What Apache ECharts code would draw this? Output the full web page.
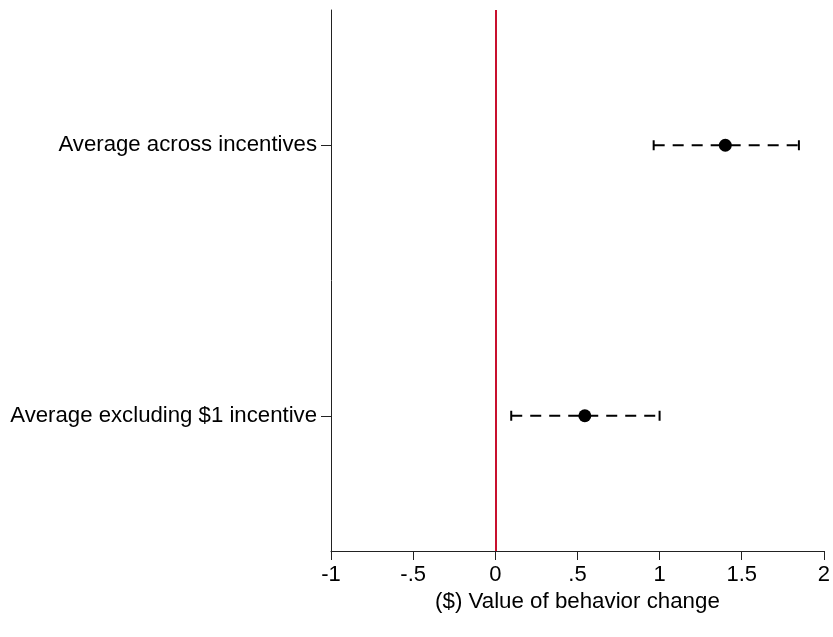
<!DOCTYPE html>
<html>
<head>
<meta charset="utf-8">
<script src="https://cdn.jsdelivr.net/npm/echarts@6/dist/echarts.min.js"></script>
<style>html,body{margin:0;padding:0;background:#fff}#c{width:833px;height:637px}</style>
</head>
<body>
<div id="c"></div>
<script>
// bottom to top
var categories = ['Average excluding $1 incentive', 'Average across incentives'];
var estimates = [0.545, 1.40];
var lows = [0.097, 0.964];
var highs = [1.00, 1.848];
var xTicks = [-1, -0.5, 0, 0.5, 1, 1.5, 2];

function fmt(v) {
  if (v === 0) return '0';
  var s = String(v);
  return s.replace(/^(-?)0\./, '$1.');
}

var chart = echarts.init(document.getElementById('c'), null, {renderer: 'canvas'});
var font = 'Liberation Sans, Arial, Helvetica, sans-serif';

var errData = categories.map(function (c, i) { return [lows[i], highs[i], i]; });
var ptData = categories.map(function (c, i) { return [estimates[i], i]; });

chart.setOption({
  animation: false,
  grid: {left: 331, right: 6, top: 10, bottom: 86},
  xAxis: {
    type: 'value', min: xTicks[0], max: xTicks[xTicks.length - 1], interval: 0.5,
    axisLine: {show: true, onZero: false, lineStyle: {color: '#222', width: 1}},
    axisTick: {show: true, inside: false, length: 9, lineStyle: {color: '#222'}},
    axisLabel: {color: '#000', fontSize: 22, fontFamily: font, margin: 13, formatter: fmt},
    splitLine: {show: false},
    name: '($) Value of behavior change', nameLocation: 'middle', nameGap: 39,
    nameTextStyle: {color: '#000', fontSize: 22.3, fontFamily: font, verticalAlign: 'top'}
  },
  yAxis: {
    type: 'category', data: categories, boundaryGap: true,
    axisLine: {show: true, onZero: false, lineStyle: {color: '#222', width: 1}},
    axisTick: {show: true, inside: false, alignWithLabel: true, length: 10, lineStyle: {color: '#222'}},
    axisLabel: {color: '#000', fontSize: 22.2, fontFamily: font, margin: 14},
    splitLine: {show: false}
  },
  series: [
    {
      type: 'custom',
      data: errData,
      encode: {x: [0, 1], y: 2},
      z: 2,
      renderItem: function (params, api) {
        var y = api.value(2);
        var p1 = api.coord([api.value(0), y]);
        var p2 = api.coord([api.value(1), y]);
        var cap = 5;
        var st = {stroke: '#000', lineWidth: 2};
        return {
          type: 'group',
          children: [
            {type: 'line', shape: {x1: p1[0], y1: p1[1], x2: p2[0], y2: p2[1]},
             style: {stroke: '#000', lineWidth: 2, lineDash: [11, 8]}},
            {type: 'line', shape: {x1: p1[0], y1: p1[1] - cap, x2: p1[0], y2: p1[1] + cap}, style: st},
            {type: 'line', shape: {x1: p2[0], y1: p2[1] - cap, x2: p2[0], y2: p2[1] + cap}, style: st}
          ]
        };
      }
    },
    {
      type: 'scatter',
      data: ptData,
      symbol: 'circle', symbolSize: 13,
      itemStyle: {color: '#000', opacity: 1},
      z: 3,
      markLine: {
        silent: true, symbol: 'none',
        label: {show: false},
        lineStyle: {color: '#c8102e', width: 2, type: 'solid'},
        data: [{xAxis: 0}]
      }
    }
  ]
});
</script>
</body>
</html>
